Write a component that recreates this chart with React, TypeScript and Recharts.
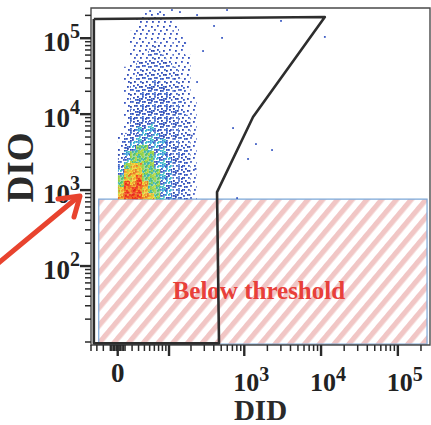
import { ComposedChart, XAxis, YAxis, Scatter, ReferenceArea } from 'recharts'

const SERIF = '"Liberation Serif", "Times New Roman", Times, serif'

// DID (x) is drawn on an arcsinh (biex-like) scale, DIO (y) on log10
const BIEX_W = 45
const xT = (v: number) => Math.asinh(v / BIEX_W)
const yT = (v: number) => Math.log10(v)

const didExtent = [-40, 262144]
const dioExtent = [9.13, 250000]

// density of the event cloud
// bin centres + level per cell: 0 empty, 1..3 blue, 4 cyan, 5 green, 6 yellow, 7 red
const didBins = [4.5, 12.8, 21.5, 30.9, 41.3, 52.9, 66.8, 82, 100, 124, 151, 179, 216]
const dioBins = [
  198000, 165000, 137000, 114000, 95400, 79500, 66200, 55200, 46000, 38300, 31900,
  26600, 22200, 18500, 15400, 12800, 10700, 8920, 7430, 6190, 5160, 4300, 3580,
  2990, 2490, 2070, 1730, 1440, 1200, 1000, 830,
]
const density = [
  '0000111100000',
  '0001111110000',
  '0001111111000',
  '0011111111000',
  '0011111111100',
  '0011112111100',
  '0011122111100',
  '0011122211110',
  '0012222221110',
  '0112222222110',
  '0112222222110',
  '0122223222210',
  '0122233322210',
  '0122333332210',
  '0123333332211',
  '0123333333211',
  '0133333333211',
  '0133333333221',
  '0133343333221',
  '0134443333221',
  '1234444333221',
  '1344444433221',
  '1345544433221',
  '2455554433321',
  '2455554443321',
  '3566554443321',
  '4666555443321',
  '5667555443321',
  '5767655443321',
  '6777655443321',
  '6777665443321',
]

// lone events away from the cloud
const sparseDID = [596, 403, 513, 289, 3010, 11200, 714, 1420, 2300, 1120, 806, 241, 167, 241, 51, 74, 110, 142, 205, 230]
const sparseDIO = [235000, 145000, 101000, 67800, 169000, 104000, 6560, 4040, 3370, 2570, 785, 202000, 86500, 26500, 228000, 221000, 235000, 221000, 5200, 1900]

// drawn gate
const gateDID = [-35, 11200, 1300, 441, 468, -35, -35]
const gateDIO = [179000, 190000, 9160, 942, 9.6, 9.6, 179000]

// "below threshold" region
const thresholdDIO = 760
const thresholdDID = [-27, 240000]
const thresholdFloor = 9.35

const decade = (from: number, to: number) => {
  const out: number[] = []
  for (let e = from; e < to; e++) for (let k = 1; k < 10; k++) out.push(k * 10 ** e)
  out.push(10 ** to)
  return out
}

const didTicks = [-40, -30, -20, -10, -8, -6, -4, -2, 0, 2, 4, 6, 8, ...decade(1, 5), 200000]
const didMajor = [0, 100, 1000, 10000, 100000]
const dioTicks = [...decade(1, 5), 200000]
const dioMajor = [100, 1000, 10000, 100000]

const xRaw = new Map(didTicks.map((v) => [xT(v), v]))
const yRaw = new Map(dioTicks.map((v) => [yT(v), v]))

const cells = dioBins.flatMap((dio, i) =>
  didBins.map((did, j) => ({ x: xT(did), y: yT(dio), level: Number(density[i][j]) }))
).filter((c) => c.level > 0)

const sparse = sparseDID.map((d, i) => ({ x: xT(d), y: yT(sparseDIO[i]) }))
const gate = gateDID.map((d, i) => ({ x: xT(d), y: yT(gateDIO[i]) }))

// speckle patterns for each density level
const DOTS = [
  [1, 1], [7, 2], [4, 6], [10, 5], [2, 9], [8, 9], [5, 0], [10, 10], [0, 5], [6, 6], [9, 2], [3, 3],
  [1, 10], [10, 8], [7, 4], [4, 9], [5, 3], [10, 0], [0, 7], [8, 7], [2, 5], [9, 10], [6, 10], [3, 1],
  [0, 2], [6, 8], [3, 7], [9, 6], [7, 0], [4, 11], [11, 3], [1, 4],
]
const levelBg = ['', '', '', '', '', '#a8d9a2', '#f2d850', '#f25a30']
const levelDots = [0, 6, 12, 18, 26, 32, 32, 32]
const levelColors = [
  [],
  ['#3a57c4', '#2f4cb8'],
  ['#3350c0', '#2a46ad', '#3b62c9'],
  ['#2e4dbd', '#3a66cc', '#2944aa', '#3358c4'],
  ['#2f8fd8', '#3a5cc6', '#35b0d8', '#2e4dbd', '#3fc0c0'],
  ['#4cc070', '#8ccf48', '#3ab5b5', '#b8d83a'],
  ['#f0a030', '#b8d040', '#f5c028', '#e87028'],
  ['#e82818', '#f5a030', '#ee3a20', '#f07020'],
]

const TICK = '#2a2a2a'

function XTick(props: any) {
  const { x, y, payload } = props
  const raw = xRaw.get(payload.value)
  const major = didMajor.includes(raw as number)
  const exp = raw && raw >= 1000 && didMajor.includes(raw) ? Math.round(Math.log10(raw)) : null
  return (
    <g fontFamily={SERIF} fontWeight="bold" fill="#222">
      <line x1={x} x2={x} y1={y} y2={y + (major ? 11 : 6)} stroke={TICK} strokeWidth={major ? 2.4 : 1.5} />
      {raw === 0 && (
        <text x={x} y={y + 37} textAnchor="middle" fontSize={27}>0</text>
      )}
      {exp !== null && (
        <>
          <text x={x + 2} y={y + 46} textAnchor="middle" fontSize={26}>10</text>
          <text x={x + 15} y={y + 36} fontSize={20}>{exp}</text>
        </>
      )}
    </g>
  )
}

function YTick(props: any) {
  const { x, y, payload } = props
  const raw = yRaw.get(payload.value) as number
  const major = dioMajor.includes(raw)
  return (
    <g fontFamily={SERIF} fontWeight="bold" fill="#222">
      <line x1={x - (major ? 11 : 6)} x2={x} y1={y} y2={y} stroke={TICK} strokeWidth={major ? 2.4 : 1.5} />
      {major && (
        <text x={x - 11} y={y + 13} textAnchor="end" fontSize={27}>
          10<tspan dy={-13} fontSize={20}>{Math.round(Math.log10(raw))}</tspan>
        </text>
      )}
    </g>
  )
}

const XTitle = ({ viewBox }: any) => (
  <text x={viewBox.x + viewBox.width / 2} y={viewBox.y + 75} textAnchor="middle"
    fontFamily={SERIF} fontWeight="bold" fontSize={29} fill="#2a2a2a">DID</text>
)

const YTitle = ({ viewBox }: any) => {
  const cy = viewBox.y + viewBox.height / 2 - 9
  return (
    <text x={33} y={cy} transform={`rotate(-90, 33, ${cy})`} textAnchor="middle"
      fontFamily={SERIF} fontWeight="bold" fontSize={37} fill="#2a2a2a">DIO</text>
  )
}

const BelowLabel = ({ viewBox }: any) => (
  <text x={viewBox.x + viewBox.width / 2 - 4} y={viewBox.y + 100} textAnchor="middle"
    fontFamily={SERIF} fontWeight="bold" fontSize={25} fill="#e8403a">Below threshold</text>
)

const DensityCell = (p: any) => (
  <rect x={p.cx - 3.1} y={p.cy - 3.1} width={6.2} height={6.2} fill={`url(#dens${p.payload.level})`} />
)

const Speck = (p: any) => <rect x={p.cx - 0.9} y={p.cy - 0.9} width={1.8} height={1.8} fill="#3d5cc4" />

export default function App() {
  return (
    <div style={{ position: 'absolute', left: 0, top: 0, width: 431, height: 425, background: '#fff' }}>
      <ComposedChart width={431} height={425} margin={{ top: 8, right: 1, bottom: 0, left: 0 }}>
        <XAxis
          type="number"
          dataKey="x"
          domain={[xT(didExtent[0]), xT(didExtent[1])]}
          ticks={didTicks.map(xT)}
          interval={0}
          tick={<XTick />}
          tickSize={0}
          tickMargin={0}
          tickLine={false}
          axisLine={false}
          height={80}
          allowDataOverflow
          label={<XTitle />}
        />
        <YAxis
          type="number"
          dataKey="y"
          domain={[yT(dioExtent[0]), yT(dioExtent[1])]}
          ticks={dioTicks.map(yT)}
          interval={0}
          tick={<YTick />}
          tickSize={0}
          tickMargin={0}
          tickLine={false}
          axisLine={false}
          width={91}
          allowDataOverflow
          label={<YTitle />}
        />
        <ReferenceArea
          x1={xT(thresholdDID[0])}
          x2={xT(thresholdDID[1])}
          y1={yT(thresholdFloor)}
          y2={yT(thresholdDIO)}
          fill="url(#hatch)"
          fillOpacity={1}
          stroke="#7ba7d8"
          strokeWidth={1.2}
          label={<BelowLabel />}
        />
        <ReferenceArea
          x1={xT(didExtent[0])}
          x2={xT(didExtent[1])}
          y1={yT(dioExtent[0])}
          y2={yT(dioExtent[1])}
          fill="none"
          stroke="#4a4a4a"
          strokeWidth={1.4}
          ifOverflow="visible"
        />
        <Scatter data={cells} shape={DensityCell} isAnimationActive={false} />
        <Scatter data={sparse} shape={Speck} isAnimationActive={false} />
        <Scatter
          data={gate}
          shape={() => <g />}
          line={{ stroke: '#2d2d2d', strokeWidth: 2.6, strokeLinejoin: 'round' }}
          isAnimationActive={false}
        />
      </ComposedChart>
      <svg width={431} height={425} style={{ position: 'absolute', left: 0, top: 0, pointerEvents: 'none' }}>
        <defs>
          <pattern id="hatch" width={11.3} height={11.3} patternUnits="userSpaceOnUse" patternTransform="rotate(40)">
            <rect width={11.3} height={11.3} fill="#fff" />
            <rect width={5.2} height={11.3} fill="#f1c6c5" />
          </pattern>
          {levelDots.map((n, lv) => (
            <pattern key={lv} id={`dens${lv}`} width={12} height={12} patternUnits="userSpaceOnUse">
              {levelBg[lv] && <rect width={12} height={12} fill={levelBg[lv]} />}
              {DOTS.slice(0, n).map(([dx, dy], k) => (
                <rect key={k} x={dx} y={dy} width={1.8} height={1.8}
                  fill={levelColors[lv][k % levelColors[lv].length]} />
              ))}
            </pattern>
          ))}
        </defs>
        <g stroke="#e8432e" strokeWidth={5} fill="none" strokeLinecap="round" strokeLinejoin="round">
          <line x1={-4} y1={265} x2={78} y2={197} />
          <polyline points="58,199 80,196 74,217" />
        </g>
      </svg>
    </div>
  )
}
